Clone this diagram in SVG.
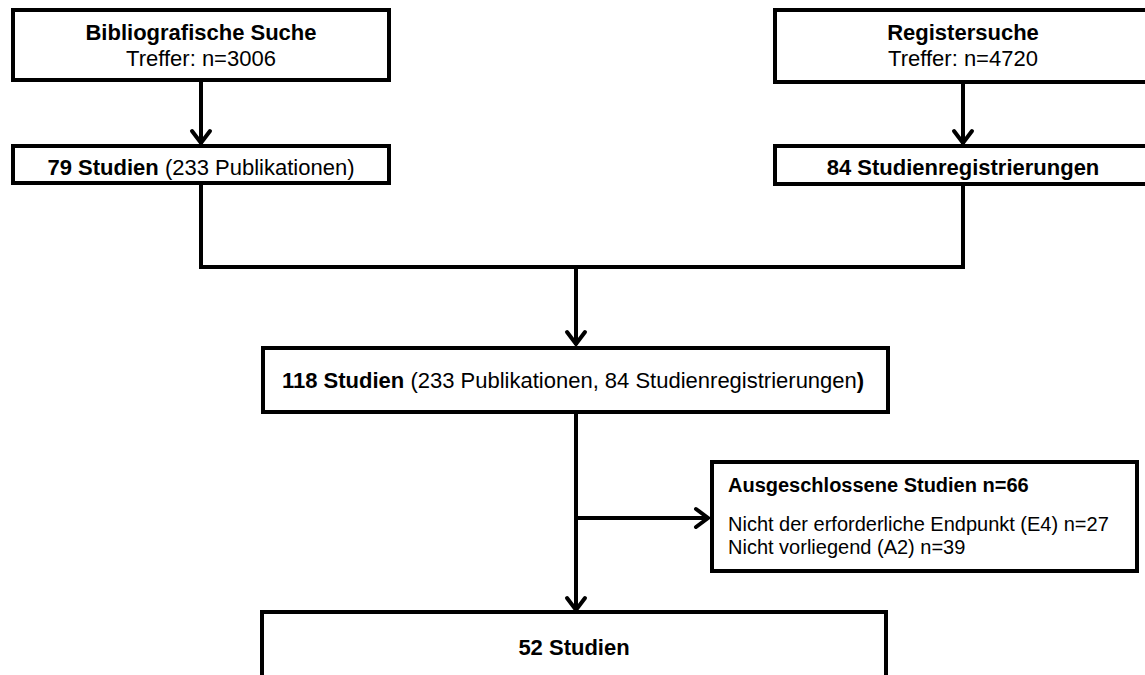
<svg xmlns="http://www.w3.org/2000/svg" width="1145" height="675" viewBox="0 0 1145 675">
  <defs>
    <style>
      .box { fill: #ffffff; stroke: #000000; stroke-width: 4; }
      .line { fill: none; stroke: #000000; stroke-width: 4; }
      .head { fill: none; stroke: #000000; stroke-width: 4; stroke-linecap: round; stroke-linejoin: miter; }
      text { font-family: "Liberation Sans", Arial, sans-serif; fill: #000000; }
      .t { font-size: 22px; }
      .b { font-weight: bold; }
      .s { font-size: 20px; }
    </style>
  </defs>
  <rect width="1145" height="675" fill="#ffffff"/>

  <!-- connectors -->
  <g id="connectors">
    <line class="line" x1="201" y1="80" x2="201" y2="144"/>
    <polyline class="head" points="192,131 201,143 210,131"/>
    <line class="line" x1="963" y1="82" x2="963" y2="144"/>
    <polyline class="head" points="954,131 963,143 972,131"/>
    <polyline class="line" points="201,184 201,267 963,267 963,184"/>
    <line class="line" x1="576" y1="267" x2="576" y2="345"/>
    <polyline class="head" points="567,332 576,344 585,332"/>
    <line class="line" x1="576" y1="412" x2="576" y2="610"/>
    <polyline class="head" points="567,598 576,610 585,598"/>
    <line class="line" x1="576" y1="518" x2="708" y2="518"/>
    <polyline class="head" points="696,509 708,518 696,527"/>
  </g>

  <g id="node-biblio">
    <rect class="box" x="13" y="10" width="376" height="70"/>
    <text class="t b" x="201" y="40" text-anchor="middle">Bibliografische Suche</text>
    <text class="t" x="201" y="66" text-anchor="middle">Treffer: n=3006</text>
  </g>

  <g id="node-register">
    <rect class="box" x="775" y="10" width="376" height="72"/>
    <text class="t b" x="963" y="40" text-anchor="middle">Registersuche</text>
    <text class="t" x="963" y="66" text-anchor="middle">Treffer: n=4720</text>
  </g>

  <g id="node-79">
    <rect class="box" x="13" y="146" width="376" height="37"/>
    <text class="t" x="201" y="175" text-anchor="middle"><tspan class="b">79 Studien</tspan> (233 Publikationen)</text>
  </g>

  <g id="node-84">
    <rect class="box" x="775" y="146" width="376" height="38"/>
    <text class="t b" x="963" y="175" text-anchor="middle">84 Studienregistrierungen</text>
  </g>

  <g id="node-118">
    <rect class="box" x="263" y="348" width="625" height="64"/>
    <text class="t" x="282" y="388"><tspan class="b">118 Studien</tspan> (233 Publikationen, 84 Studienregistrierungen<tspan class="b">)</tspan></text>
  </g>

  <g id="node-excluded">
    <rect class="box" x="712" y="462" width="425" height="109"/>
    <text class="s b" x="728" y="492">Ausgeschlossene Studien n=66</text>
    <text class="s" x="728" y="531">Nicht der erforderliche Endpunkt (E4) n=27</text>
    <text class="s" x="728" y="554">Nicht vorliegend (A2) n=39</text>
  </g>

  <g id="node-52">
    <rect class="box" x="262" y="612" width="624" height="90"/>
    <text class="t b" x="574" y="655" text-anchor="middle">52 Studien</text>
  </g>
</svg>
